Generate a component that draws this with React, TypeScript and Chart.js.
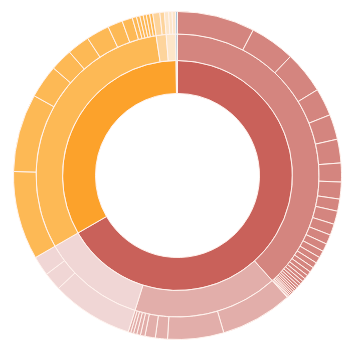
import React, { useEffect, useRef } from "react";
import { Chart, registerables } from "chart.js";

Chart.register(...registerables);

// Inner ring: top-level categories
const innerLabels = ["Red", "Orange", "Blue"];
const innerValues = [240, 119.3, 0.7];
const innerColors = ["#c9615a", "#fca22b", "#d6e3ee"];

// Middle ring: children of the inner categories
const middleParents = [0, 0, 0, 1, 1, 1, 2];
const middleValues = [138, 59.5, 42.5, 111.3, 4.1, 3.9, 0.7];
const middleColors = ["#d4857f", "#e2aeaa", "#f0d6d5", "#fdb955", "#fdd49c", "#fde6c9", "#a9c5da"];

// Outer ring: children of the middle categories (grouped by middle parent)
const outer0 = [27.5, 16, 15, 9.8, 8.9, 8.4, 6.7, 6, 4.3, 4.7, 4, 3.4, 2.8, 2.5, 2.2, 2.0, 1.8, 1.6, 1.4, 1.2, 1.1, 1.0, 0.9, 0.8, 0.7, 0.7, 0.6, 0.5, 0.5, 0.4, 0.4, 0.2];
const outer1 = [25.6, 19.9, 4.3, 3.7, 1.6, 1.3, 1.2, 1.0, 0.9];
const outer2 = [29, 6.5, 7];
const outer3 = [31.4, 27.7, 11.8, 7.9, 8, 8.2, 5.3, 3.7, 1.5, 1.2, 1.2, 1.1, 1.2, 1.1];
const outer4 = [2.5, 1.6];
const outer5 = [1.5, 1.2, 1.2];
const outer6 = [0.7];
const outerGroups = [outer0, outer1, outer2, outer3, outer4, outer5, outer6];

export default function App() {
  const ref = useRef<HTMLCanvasElement | null>(null);
  useEffect(() => {
    if (!ref.current) return;
    const outerValues: number[] = [];
    const outerColors: string[] = [];
    outerGroups.forEach((g, i) => {
      g.forEach((v) => {
        outerValues.push(v);
        outerColors.push(middleColors[i]);
      });
    });
    const border = "#fff3ee";
    const chart = new Chart(ref.current, {
      type: "doughnut",
      data: {
        labels: outerValues.map((_, i) => String(i)),
        datasets: [
          { data: outerValues, backgroundColor: outerColors, borderColor: border, borderWidth: 1, weight: 22.5 },
          { data: middleValues, backgroundColor: middleColors, borderColor: border, borderWidth: 1, weight: 26.5 },
          { data: innerValues, backgroundColor: innerColors, borderColor: border, borderWidth: 1, weight: 33 },
        ],
      },
      options: {
        animation: false,
        responsive: true,
        maintainAspectRatio: false,
        cutout: "50%",
        layout: { padding: { left: 5, right: 8, top: 3, bottom: 4 } },
        plugins: { legend: { display: false }, tooltip: { enabled: false } },
        events: [],
      },
    });
    return () => chart.destroy();
  }, []);
  return (
    <div style={{ width: 342, height: 336, position: "relative" }}>
      <canvas ref={ref} />
    </div>
  );
}
